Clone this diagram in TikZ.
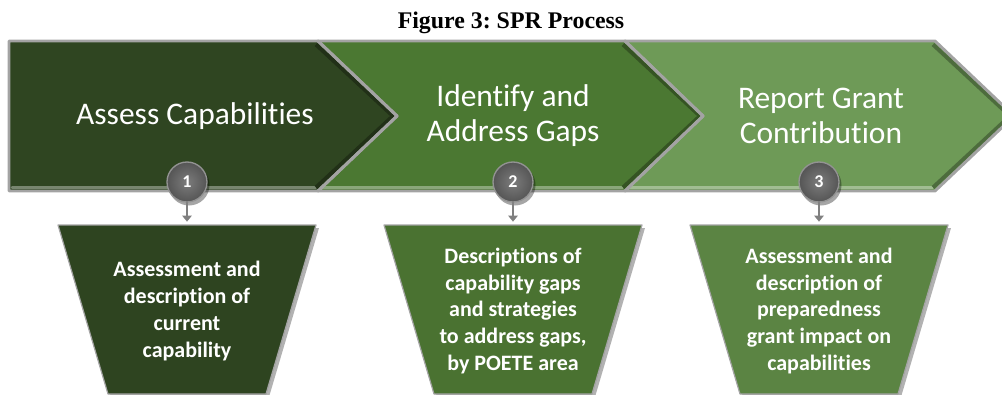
\documentclass[tikz,border=0pt]{standalone}
\usepackage{fontspec}
\setmainfont{Carlito}[Ligatures=NoCommon]
\newfontfamily\captionfont{Liberation Serif}
\usetikzlibrary{arrows.meta}

\definecolor{stepone}{HTML}{2F4521}
\definecolor{steptwo}{HTML}{4B7832}
\definecolor{stepthree}{HTML}{6E9A57}
\definecolor{outone}{HTML}{2E4420}
\definecolor{outtwo}{HTML}{4A7231}
\definecolor{outthree}{HTML}{5B8443}
\definecolor{rim}{HTML}{A3A3A3}
\definecolor{badgein}{HTML}{7C7C7C}
\definecolor{badgeout}{HTML}{555555}

\tikzset{
  rimline/.style={draw=rim, line width=2.2pt},
  funnel/.style={fill=#1, draw=rim, line width=0.9pt},
  steplabel/.style={text=white, align=center, font=\fontsize{23.6}{26.2}\selectfont},
  outlabel/.style={text=white, align=center, font=\bfseries\fontsize{16.5}{20.2}\selectfont},
  badge/.style={circle, minimum size=30pt, inner sep=0pt, shading=radial, inner color=badgein,
    outer color=badgeout, draw=gray!85, line width=1pt,
    text=white, font=\bfseries\fontsize{13.5}{14}\selectfont},
}

\begin{document}
\frenchspacing
\begin{tikzpicture}[line cap=round, line join=round, x=0.75pt, y=-0.75pt]
    \clip (0,0) rectangle (1002,394);

    % caption
    \node[anchor=base, font=\captionfont\bfseries\fontsize{17.9}{20}\selectfont] (title) at (511,28) {Figure 3: SPR Process};

    % the three chevrons of the band
    \coordinate (p1) at (9,41);
    \coordinate (p2) at (318,41);
    \coordinate (p3) at (625,41);
    \coordinate (p4) at (935,41);
    \fill[stepthree] (p3) -- (p4) -- (1014,116) -- (935,191) -- (625,191) -- (703,116) -- cycle;
    \fill[steptwo] (p2) -- (p3) -- (703,116) -- (625,191) -- (318,191) -- (397,116) -- cycle;
    \fill[stepone] (p1) -- (p2) -- (397,116) -- (318,191) -- (9,191) -- cycle;
    % bevel: light lower rim, dark rim along the point
    \foreach \l/\r/\col in {9/318/stepone, 318/625/steptwo, 625/935/stepthree} {
        \draw[\col!65!white, line width=2pt] (\l+3,187.5) -- (\r-2,187.5);
        \draw[\col!70!black, line width=3pt, line cap=butt] (\r-2,44.5) -- (\r+75,116) -- (\r-2,187.5);
    }
    \draw[rimline] (p3) -- (p4) -- (1014,116) -- (935,191) -- (625,191) -- (703,116) -- cycle;
    \draw[rimline] (p2) -- (p3) -- (703,116) -- (625,191) -- (318,191) -- (397,116) -- cycle;
    \draw[rimline] (p1) -- (p2) -- (397,116) -- (318,191) -- (9,191) -- cycle;

    \node[steplabel] (assess) at (195,116) {Assess Capabilities};
    \node[steplabel] (identify) at (513,116) {Identify and\\Address Gaps};
    \node[steplabel] (report) at (821,116) {Report Grant\\Contribution};

    % funnels below, with a soft shadow
    \foreach \x/\col in {187/outone, 513/outtwo, 819/outthree} {
        \fill[black, opacity=0.3] (\x-126,228) -- (\x+132,228) -- (\x+82,397) -- (\x-76,397) -- cycle;
        \filldraw[funnel=\col] (\x-129,225) -- (\x+129,225) -- (\x+79,394) -- (\x-79,394) -- cycle;
        \coordinate (top\x) at (\x,225);
    }

    \node[outlabel] (outcur) at (187,311) {Assessment and\\description of\\current\\capability};
    \node[outlabel] (outgap) at (513,311) {Descriptions of\\capability gaps\\and strategies\\to address gaps,\\by POETE area};
    \node[outlabel] (outimp) at (819,311) {Assessment and\\description of\\preparedness\\grant impact on\\capabilities};

    % numbered badges and their arrows
    \foreach \x/\num in {187/1, 513/2, 819/3} {
        \fill[black, opacity=0.35] (\x+2,185) circle (20.5);
        \node[badge] (badge\num) at (\x,182) {\num};
        \draw[gray, line width=1.5pt, -{Triangle[width=7pt,length=4.5pt]}, shorten >=2.5pt] (badge\num) -- (top\x);
    }
\end{tikzpicture}
\end{document}
